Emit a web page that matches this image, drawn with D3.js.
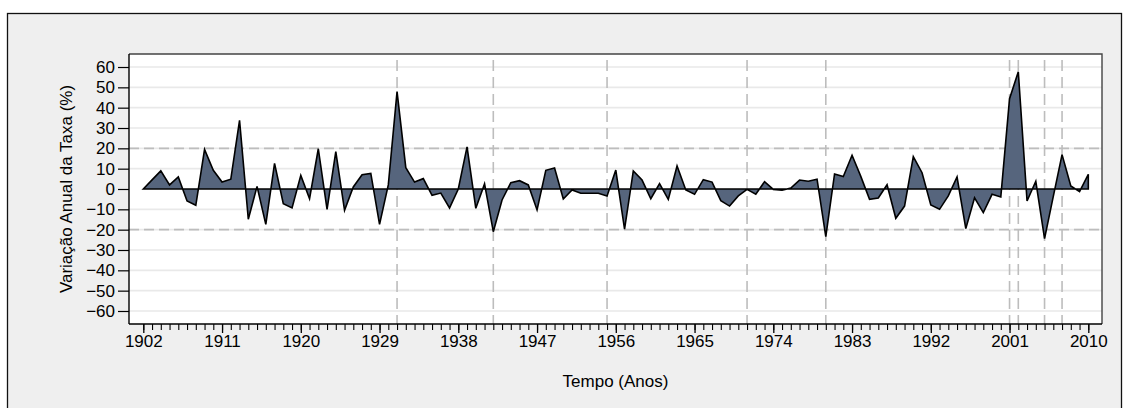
<!DOCTYPE html>
<html>
<head>
<meta charset="utf-8">
<script src="https://cdn.jsdelivr.net/npm/d3@7"></script>
<style>
  html, body { margin: 0; padding: 0; background: #ffffff; }
  svg { display: block; }
  text { font-family: "Liberation Sans", Arial, sans-serif; fill: #000; }
</style>
</head>
<body>
<svg id="chart" width="1130" height="408"></svg>
<script>
// Annual variation of the rate, 1902–2010 (%)
const startYear = 1902;
const endYear = 2010;
const values = [
  0, 4.5, 8.9, 2.0, 5.9, -5.9, -8.0, 19.5, 9.2, 3.4,          // 1902–1911
  4.8, 33.8, -14.9, 1.3, -17.4, 12.6, -7.2, -9.3, 6.7, -4.8,  // 1912–1921
  19.8, -10.0, 18.4, -10.5, 1.0, 7.0, 7.7, -17.4, 2.0, 47.9,  // 1922–1931
  10.5, 3.4, 5.1, -3.1, -2.0, -9.3, 0.0, 20.7, -9.5, 2.5,     // 1932–1941
  -21.0, -5.4, 3.1, 4.1, 2.0, -10.3, 9.2, 10.3, -4.9, -0.5,   // 1942–1951
  -2.1, -2.1, -2.1, -3.4, 9.3, -19.8, 8.9, 4.4, -4.8, 2.6,    // 1952–1961
  -5.1, 11.3, -0.5, -2.6, 4.6, 3.4, -5.7, -8.4, -3.4, -0.2,   // 1962–1971
  -2.6, 3.6, -0.2, -0.6, 0.5, 4.4, 3.8, 4.8, -23.4, 7.4,      // 1972–1981
  6.1, 16.6, 6.2, -5.1, -4.4, 2.1, -14.4, -8.4, 15.9, 8.0,    // 1982–1991
  -7.9, -10.0, -3.4, 5.9, -19.5, -4.3, -11.6, -2.6, -3.9, 44.4, // 1992–2001
  57.7, -5.9, 3.8, -24.4, -3.6, 16.9, 1.5, -1.3, 7.2          // 2002–2010
];
const years = d3.range(startYear, endYear + 1);

// Axis ticks and reference lines
const xTickLabels = [1902, 1911, 1920, 1929, 1938, 1947, 1956, 1965, 1974, 1983, 1992, 2001, 2010];
const yTickLabels = [-60, -50, -40, -30, -20, -10, 0, 10, 20, 30, 40, 50, 60];
const refYears = [1931, 1942, 1955, 1971, 1980, 2001, 2002, 2005, 2007];
const refLevels = [-20, 20];

const yTitle = "Variação Anual da Taxa (%)";
const xTitle = "Tempo (Anos)";

const data = years.map((yr, i) => ({ year: yr, value: values[i] }));

const svg = d3.select("#chart");
const plot = { left: 129, top: 54, right: 1102, bottom: 324 };

// Outer frame
svg.append("rect")
  .attr("x", 7.5).attr("y", 13.5)
  .attr("width", 1114).attr("height", 420)
  .attr("fill", "#efefef")
  .attr("stroke", "#111").attr("stroke-width", 1.3);

const x = d3.scaleLinear().domain([1902, 2010]).range([143.3, 1088.3]);
const y = d3.scaleLinear().domain([-66.4, 66.4]).range([plot.bottom, plot.top]);

// Plot region background
svg.append("rect")
  .attr("x", plot.left).attr("y", plot.top)
  .attr("width", plot.right - plot.left).attr("height", plot.bottom - plot.top)
  .attr("fill", "#ffffff");

// Horizontal grid
svg.append("g").selectAll("line")
  .data(yTickLabels.filter(v => v !== 0))
  .join("line")
  .attr("x1", plot.left).attr("x2", plot.right)
  .attr("y1", d => y(d)).attr("y2", d => y(d))
  .attr("stroke", "#e9e9e9").attr("stroke-width", 1.6);

// Dashed reference levels
svg.append("g").selectAll("line")
  .data(refLevels)
  .join("line")
  .attr("x1", plot.left).attr("x2", plot.right)
  .attr("y1", d => y(d)).attr("y2", d => y(d))
  .attr("stroke", "#bdbdbd").attr("stroke-width", 1.6)
  .attr("stroke-dasharray", "10,5");

// Dashed reference years
svg.append("g").selectAll("line")
  .data(refYears)
  .join("line")
  .attr("x1", d => x(d)).attr("x2", d => x(d))
  .attr("y1", plot.top + 6).attr("y2", plot.bottom)
  .attr("stroke", "#bdbdbd").attr("stroke-width", 1.6)
  .attr("stroke-dasharray", "11,6");

// Filled series, outlined against the zero baseline
const area = d3.area()
  .x(d => x(d.year))
  .y0(y(0))
  .y1(d => y(d.value));

svg.append("path")
  .datum(data)
  .attr("d", area)
  .attr("fill", "#56657d")
  .attr("stroke", "#000")
  .attr("stroke-width", 1.6)
  .attr("stroke-linejoin", "miter");

// Plot frame (top and right)
svg.append("path")
  .attr("d", `M${plot.left},${plot.top}H${plot.right}V${plot.bottom}`)
  .attr("fill", "none")
  .attr("stroke", "#444").attr("stroke-width", 1.4);

// Y axis
const yAxis = d3.axisLeft(y)
  .tickValues(yTickLabels)
  .tickSize(11)
  .tickPadding(3)
  .tickFormat(d3.format("d"));

const gy = svg.append("g")
  .attr("transform", `translate(${plot.left},0)`)
  .call(yAxis);
gy.select(".domain").attr("stroke", "#000").attr("stroke-width", 1.4)
  .attr("d", `M0,${plot.top}V${plot.bottom}`);
gy.selectAll(".tick line").attr("stroke", "#000").attr("stroke-width", 1.2);
gy.selectAll("text").style("font-size", "17px").attr("fill", "#000");

// X axis: minor ticks every year, labelled ticks every nine years
const gxMinor = svg.append("g")
  .attr("transform", `translate(0,${plot.bottom})`)
  .call(d3.axisBottom(x).tickValues(years).tickSize(6).tickFormat(""));
gxMinor.select(".domain").remove();
gxMinor.selectAll(".tick line").attr("stroke", "#000").attr("stroke-width", 1.1);

const gx = svg.append("g")
  .attr("transform", `translate(0,${plot.bottom})`)
  .call(d3.axisBottom(x).tickValues(xTickLabels).tickSize(9).tickPadding(2).tickFormat(d3.format("d")));
gx.select(".domain").attr("stroke", "#000").attr("stroke-width", 1.4)
  .attr("d", `M${plot.left},0H${plot.right}`);
gx.selectAll(".tick line").attr("stroke", "#000").attr("stroke-width", 1.3);
gx.selectAll("text").style("font-size", "17px").attr("fill", "#000");

// Axis titles
svg.append("text")
  .attr("transform", `translate(71.5,${(plot.top + plot.bottom) / 2}) rotate(-90)`)
  .attr("text-anchor", "middle")
  .style("font-size", "17px")
  .text(yTitle);

svg.append("text")
  .attr("x", (plot.left + plot.right) / 2)
  .attr("y", 387)
  .attr("text-anchor", "middle")
  .style("font-size", "17px")
  .text(xTitle);
</script>
</body>
</html>
